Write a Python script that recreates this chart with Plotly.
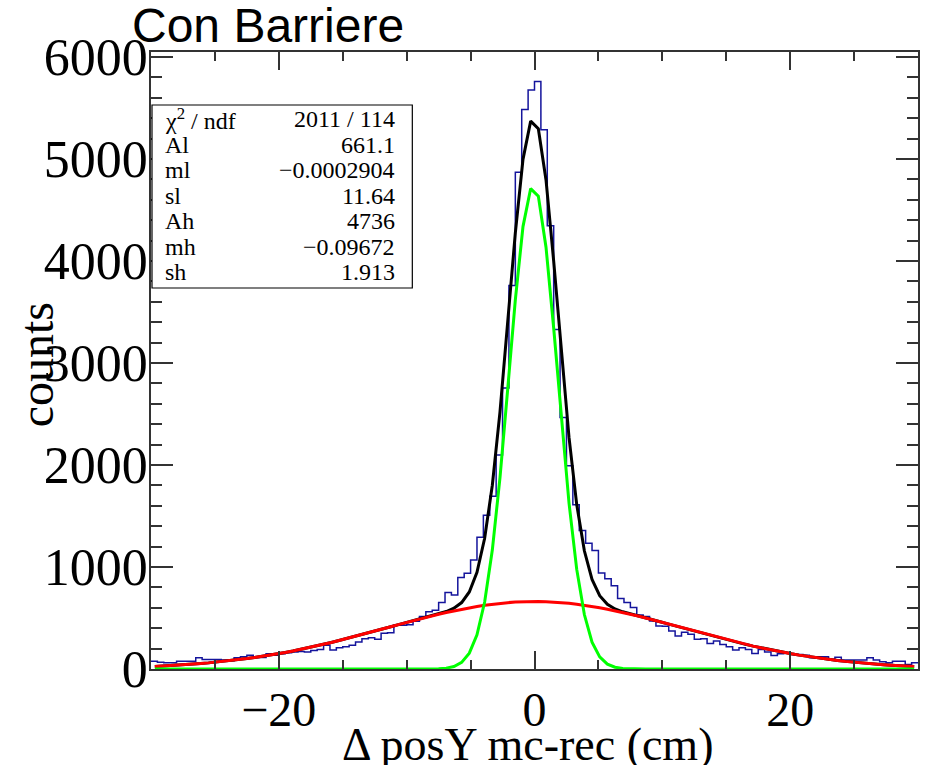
import numpy as np
import plotly.graph_objects as go

# ---------------- data ----------------
x_min, x_max = -30.0, 30.0
bin_edges = np.linspace(x_min, x_max, 121)  # 120 bins of 0.5 cm

counts = [
    77, 67, 61, 61, 77, 77, 77, 110, 94, 94,
    94, 87, 80, 110, 120, 136, 113, 113, 149, 136,
    149, 159, 166, 172, 166, 182, 192, 232, 186, 209,
    218, 232, 264, 297, 307, 291, 350, 356, 428, 428,
    433, 468, 514, 560, 575, 652, 751, 725, 898, 938,
    1069, 1292, 1506, 1693, 2097, 2754, 3760, 4870, 5485, 5675,
    5760, 5285, 4345, 3328, 2465, 1992, 1611, 1358, 1233, 1161,
    940, 885, 815, 691, 652, 603, 530, 514, 471, 422,
    420, 373, 323, 361, 340, 291, 296, 251, 274, 241,
    218, 186, 209, 192, 153, 192, 166, 133, 149, 159,
    143, 143, 136, 110, 120, 120, 94, 116, 87, 87,
    87, 87, 110, 87, 71, 61, 77, 77, 44, 61,
]

# fit-curve sample points (100 points, as drawn by the fitting program)
fit_x = np.linspace(-29.7, 29.7, 100)

fit_low = [
    25.5, 29.0, 33.0, 37.3, 42.2, 47.6, 53.5, 60.0, 67.1, 74.8,
    83.2, 92.3, 102.2, 112.7, 124.0, 136.1, 149.0, 162.7, 176.9, 192.1,
    208.0, 224.5, 241.8, 259.9, 278.7, 297.8, 317.5, 337.5, 357.8, 378.3,
    398.8, 419.5, 440.0, 460.4, 480.4, 500.0, 518.9, 537.2, 554.6, 571.0,
    586.4, 600.6, 613.5, 625.0, 635.1, 643.6, 650.4, 655.6, 659.1, 660.9,
    660.9, 659.1, 655.6, 650.4, 643.6, 635.1, 625.0, 613.5, 600.6, 586.4,
    571.0, 554.6, 537.2, 518.9, 500.0, 480.4, 460.4, 440.0, 419.5, 398.8,
    378.3, 357.8, 337.5, 317.5, 297.8, 278.7, 259.9, 241.8, 224.5, 208.0,
    192.1, 176.9, 162.7, 149.0, 136.1, 124.0, 112.7, 102.2, 92.3, 83.2,
    74.8, 67.1, 60.0, 53.5, 47.6, 42.2, 37.3, 33.0, 29.0, 25.5,
]

fit_high = [
    0, 0, 0, 0, 0, 0, 0, 0, 0, 0,
    0, 0, 0, 0, 0, 0, 0, 0, 0, 0,
    0, 0, 0, 0, 0, 0, 0, 0, 0, 0,
    0, 0, 0, 0, 0, 0, 0.7, 2.6, 8.5, 24.7,
    64.9, 154.9, 335.0, 656.5, 1166.0, 1876.7, 2737.5, 3619.2, 4336.6, 4709.4,
    4635.1, 4134.6, 3342.6, 2449.2, 1626.3, 978.7, 533.9, 263.9, 118.2, 48.0,
    17.7, 5.9, 1.8, 0.5, 0, 0, 0, 0, 0, 0,
    0, 0, 0, 0, 0, 0, 0, 0, 0, 0,
    0, 0, 0, 0, 0, 0, 0, 0, 0, 0,
    0, 0, 0, 0, 0, 0, 0, 0, 0, 0,
]

fit_total = [
    25.5, 29.0, 33.0, 37.3, 42.2, 47.6, 53.5, 60.0, 67.1, 74.8,
    83.2, 92.3, 102.2, 112.7, 124.0, 136.1, 149.0, 162.7, 176.9, 192.1,
    208.0, 224.5, 241.8, 259.9, 278.7, 297.8, 317.5, 337.5, 357.8, 378.3,
    398.8, 419.5, 440.0, 460.4, 480.4, 500.0, 519.6, 539.8, 563.1, 595.7,
    651.3, 755.5, 948.5, 1281.5, 1801.1, 2520.3, 3387.9, 4274.8, 4995.7, 5370.3,
    5296.0, 4793.7, 3998.2, 3099.6, 2269.9, 1613.8, 1158.9, 877.4, 718.8, 634.4,
    588.7, 560.5, 539.0, 519.4, 500.0, 480.4, 460.4, 440.0, 419.5, 398.8,
    378.3, 357.8, 337.5, 317.5, 297.8, 278.7, 259.9, 241.8, 224.5, 208.0,
    192.1, 176.9, 162.7, 149.0, 136.1, 124.0, 112.7, 102.2, 92.3, 83.2,
    74.8, 67.1, 60.0, 53.5, 47.6, 42.2, 37.3, 33.0, 29.0, 25.5,
]

stat_names = ["χ<sup>2</sup> / ndf", "Al", "ml", "sl", "Ah", "mh", "sh"]
stat_values = ["2011 / 114", "661.1", "−0.0002904", "11.64", "4736", "−0.09672", "1.913"]

x_ticks = [-20, 0, 20]
y_max = 6048

title_text = "Con Barriere"
x_title = "Δ posY mc-rec (cm)"
y_title = "counts"

# ---------------- figure ----------------
W, H = 925, 765
ML, MR, MT, MB = 151, 5, 52, 96
PW, PH = W - ML - MR, H - MT - MB

def px_x(px):
    return (px - ML) / PW

def px_y(py):
    return (H - MB - py) / PH

fig = go.Figure()

fig.add_trace(go.Scatter(
    x=bin_edges, y=counts + [counts[-1]], mode="lines",
    line=dict(color="#14149c", width=1.5, shape="hv"), showlegend=False,
))
fig.add_trace(go.Scatter(
    x=fit_x, y=fit_total, mode="lines",
    line=dict(color="#000000", width=3), showlegend=False,
))
fig.add_trace(go.Scatter(
    x=fit_x, y=fit_low, mode="lines",
    line=dict(color="#ff0000", width=3), showlegend=False,
))
fig.add_trace(go.Scatter(
    x=fit_x, y=fit_high, mode="lines",
    line=dict(color="#00ff00", width=3), showlegend=False,
))

serif = "Liberation Serif, Times New Roman, serif"
axis_col = "#333333"

fig.update_xaxes(
    range=[x_min, x_max], tickmode="array", tickvals=x_ticks,
    ticktext=[("−" + str(abs(v))) if v < 0 else str(v) for v in x_ticks],
    ticks="inside", ticklen=18, tickwidth=1.5, tickcolor=axis_col,
    showline=True, linecolor=axis_col, linewidth=1.5, mirror="allticks",
    showgrid=False, zeroline=False, ticklabelstandoff=-2,
    minor=dict(dtick=5, tick0=0, ticks="inside", ticklen=9, tickwidth=1.5,
               tickcolor=axis_col, showgrid=False),
    tickfont=dict(family=serif, size=48, color="black"),
)
fig.update_yaxes(
    range=[0, y_max], dtick=1000, tick0=0,
    ticks="inside", ticklen=22, tickwidth=1.5, tickcolor=axis_col,
    showline=True, linecolor=axis_col, linewidth=1.5, mirror="allticks",
    showgrid=False, zeroline=False, ticklabelstandoff=-9,
    minor=dict(dtick=200, tick0=0, ticks="inside", ticklen=11, tickwidth=1.5,
               tickcolor=axis_col, showgrid=False),
    tickfont=dict(family=serif, size=52, color="black"),
)

# stats box
fig.add_shape(type="rect", xref="paper", yref="paper",
              x0=px_x(152), x1=px_x(413), y0=px_y(288), y1=px_y(105),
              line=dict(color="black", width=1.2), fillcolor="white", layer="above")
row_y = [119, 145, 170, 196, 221, 247, 272]
for name, val, yy in zip(stat_names, stat_values, row_y):
    fig.add_annotation(x=px_x(163), y=px_y(yy), xref="paper", yref="paper",
                       text=name, showarrow=False, xanchor="left", yanchor="middle",
                       font=dict(family=serif, size=24, color="black"))
    fig.add_annotation(x=px_x(398), y=px_y(yy), xref="paper", yref="paper",
                       text=val, showarrow=False, xanchor="right", yanchor="middle",
                       font=dict(family=serif, size=24, color="black"))

# titles
fig.add_annotation(x=px_x(130), y=px_y(26), xref="paper", yref="paper",
                   text=title_text, showarrow=False, xanchor="left", yanchor="middle",
                   font=dict(family="Liberation Sans, Arial, sans-serif", size=48, color="black"))
fig.add_annotation(x=px_x(528), y=px_y(744), xref="paper", yref="paper",
                   text=x_title, showarrow=False, xanchor="center", yanchor="middle",
                   font=dict(family=serif, size=46, color="black"))
fig.add_annotation(x=px_x(36), y=px_y(365), xref="paper", yref="paper",
                   text=y_title, showarrow=False, xanchor="center", yanchor="middle",
                   textangle=-90,
                   font=dict(family=serif, size=48, color="black"))

fig.update_layout(
    width=W, height=H, margin=dict(l=ML, r=MR, t=MT, b=MB, pad=0),
    paper_bgcolor="white", plot_bgcolor="white", showlegend=False,
)

fig.write_html("out.html")
